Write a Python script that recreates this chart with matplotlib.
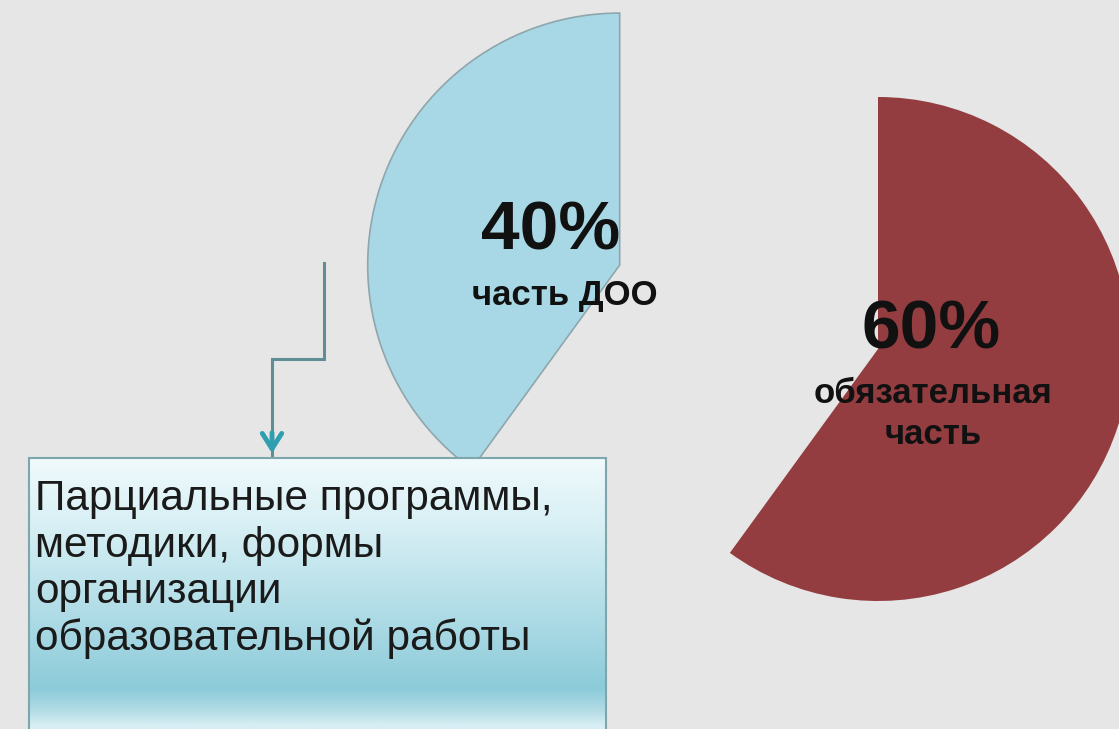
import numpy as np
import matplotlib
matplotlib.use("Agg")
import matplotlib.pyplot as plt
from matplotlib.patches import Rectangle, FancyArrowPatch
from matplotlib.colors import LinearSegmentedColormap

# ---- data ----
values = [60, 40]
pct_labels = ["60%", "40%"]
categories = ["обязательная\nчасть", "часть ДОО"]
slice_colors = ["#943d40", "#a8d8e5"]
box_text = "Парциальные программы,\nметодики, формы\nорганизации\nобразовательной работы"

W, H = 1119, 729
fig = plt.figure(figsize=(W / 100, H / 100), dpi=100)
fig.patch.set_facecolor("#e6e6e6")
ax = fig.add_axes([0, 0, 1, 1])
ax.set_facecolor("#e6e6e6")

def Y(yp):
    return H - yp

R = 252
center = (878, Y(349))
explode = [0, 271.6]

wedges, _ = ax.pie(values, colors=slice_colors, startangle=90, counterclock=False,
                   radius=R, center=center, explode=explode,
                   wedgeprops=dict(linewidth=0))
wedges[1].set_edgecolor("#8fa6ad")
wedges[1].set_linewidth(1.2)

ax.set_xlim(0, W)
ax.set_ylim(0, H)
ax.set_aspect("equal", adjustable="box")
ax.axis("off")

plt.rcParams["font.family"] = ["Liberation Sans", "DejaVu Sans"]

# labels on slices
ax.text(551, Y(231), pct_labels[1], ha="center", va="center", fontsize=50,
        fontweight="bold", color="#111111", zorder=5)
ax.text(565, Y(295), categories[1], ha="center", va="center", fontsize=25,
        fontweight="bold", color="#111111", zorder=5)
ax.text(931, Y(330), pct_labels[0], ha="center", va="center", fontsize=50,
        fontweight="bold", color="#111111", zorder=5)
ax.text(933, Y(414), categories[0], ha="center", va="center", fontsize=25,
        fontweight="bold", color="#111111", linespacing=1.3, zorder=5)

# connector
ax.plot([324, 324, 272, 272], [Y(263), Y(359), Y(359), Y(455)],
        color="#5f8e94", lw=2.2, solid_joinstyle="miter", zorder=4)
arr = FancyArrowPatch((272, Y(430)), (272, Y(456)), arrowstyle="->,head_length=11,head_width=7",
                      mutation_scale=1, color="#2f9fb0", lw=3.5, zorder=4)
ax.add_patch(arr)

# box with gradient
bx0, bx1, by0, by1 = 29, 606, 458, 740
stops = [(0.0, "#f0fafc"), (0.25, "#d6eff4"), (0.6, "#a9d9e4"), (0.82, "#8ccbd9"),
         (0.9, "#b5dde6"), (0.95, "#d8eef4"), (1.0, "#d8eef4")]
cmap = LinearSegmentedColormap.from_list("box", stops)
grad = np.linspace(0, 1, 256).reshape(-1, 1)
im = ax.imshow(grad, cmap=cmap, aspect="auto", extent=(bx0, bx1, Y(by1), Y(by0)),
               origin="upper", zorder=6)
rect = Rectangle((bx0, Y(by1)), bx1 - bx0, by1 - by0, facecolor="none",
                 edgecolor="#7ea6ad", lw=1.5, zorder=7)
ax.add_patch(rect)
im.set_clip_path(rect)
ax.text(35, Y(479), box_text, ha="left", va="top", fontsize=30.5, color="#1a1a1a",
        linespacing=1.21, zorder=8)

fig.savefig("out.png", dpi=100, facecolor=fig.get_facecolor())
